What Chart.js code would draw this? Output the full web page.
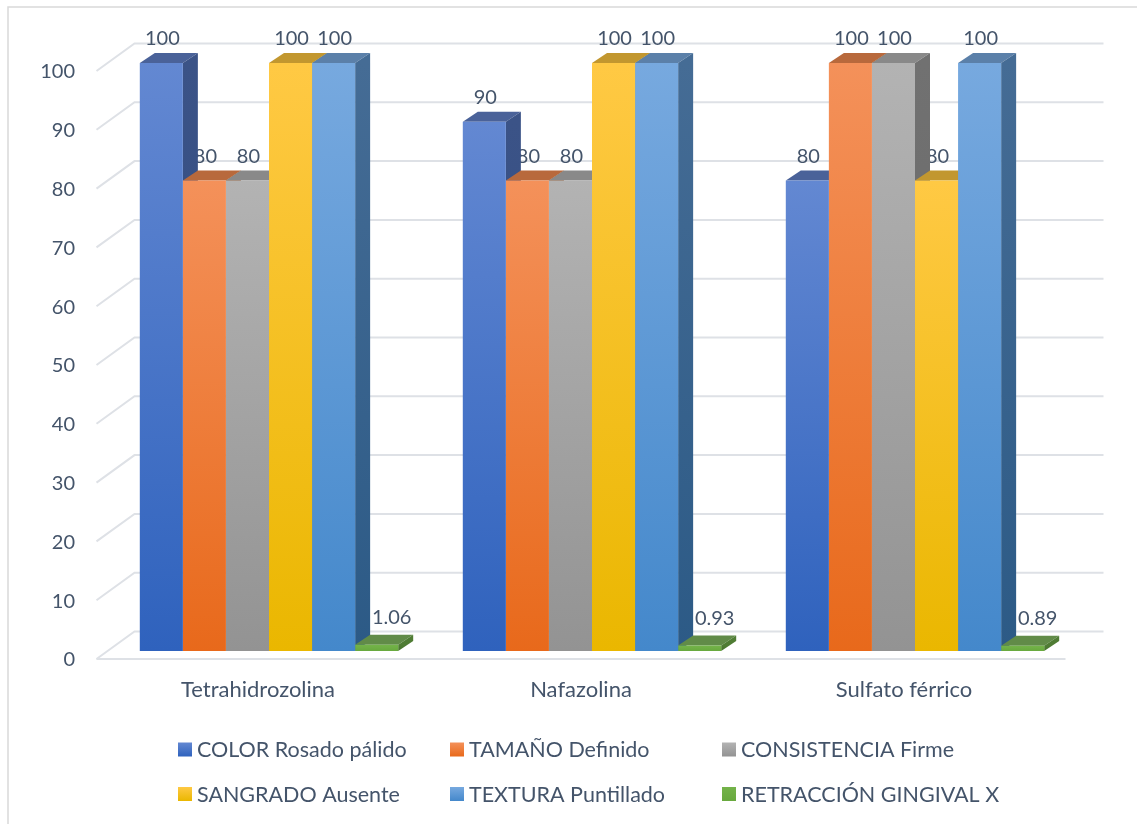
<!DOCTYPE html>
<html>
<head>
<meta charset="utf-8">
<script src="https://cdn.jsdelivr.net/npm/chart.js@4.4.1/dist/chart.umd.min.js"></script>
<style>
  html, body { margin: 0; padding: 0; background: #ffffff; }
  canvas { display: block; }
</style>
</head>
<body>
<canvas id="chart" width="1137" height="824"></canvas>
<script>
// ---- data ----
const categories = ['Tetrahidrozolina', 'Nafazolina', 'Sulfato férrico'];
const seriesNames = ['COLOR Rosado pálido', 'TAMAÑO Definido', 'CONSISTENCIA Firme',
                     'SANGRADO Ausente', 'TEXTURA Puntillado', 'RETRACCIÓN GINGIVAL X'];
const colorRosadoPalido   = [100, 90, 80];
const tamanoDefinido      = [80, 80, 100];
const consistenciaFirme   = [80, 80, 100];
const sangradoAusente     = [100, 100, 80];
const texturaPuntillado   = [100, 100, 100];
const retraccionGingival  = [1.06, 0.93, 0.89];
const yTickValues = [0, 10, 20, 30, 40, 50, 60, 70, 80, 90, 100];

// ---- styling ----
const TEXT = '#44546A';
const FONT = '"Lato", "Liberation Sans", sans-serif';
const GRID = '#DEE1E6';
// 3D offsets, relative to the plane of the bars' front faces
const DEPTH = { dx: 15, dy: -10 };    // bar depth
const WALL  = { dx: 27, dy: -19.5 };  // back wall
const FLOOR = { dx: -11, dy: 8 };     // front edge of the floor

const palette = [
  { light: '#6388D2', dark: '#2F62BD', top: '#4A6299', side: '#3B5387', sideDark: '#2E4A7E' },
  { light: '#F4915A', dark: '#E8691B', top: '#B8693C', side: '#A9581F', sideDark: '#9C4E18' },
  { light: '#B3B3B3', dark: '#939393', top: '#898989', side: '#717171', sideDark: '#666666' },
  { light: '#FFC944', dark: '#EAB700', top: '#C2972F', side: '#B08A12', sideDark: '#A07D05' },
  { light: '#77A9DF', dark: '#4488CB', top: '#5B80A9', side: '#456C95', sideDark: '#2C5A86' },
  { light: '#74B34A', dark: '#68A93E', top: '#618B48', side: '#4F7C34', sideDark: '#46722D' }
];

const seriesValues = [colorRosadoPalido, tamanoDefinido, consistenciaFirme,
                      sangradoAusente, texturaPuntillado, retraccionGingival];

function frontFill(ctx) {
  const chart = ctx.chart;
  const p = palette[ctx.datasetIndex];
  if (!chart.chartArea || ctx.type !== 'data') return p.dark;
  const ys = chart.scales.y;
  const top = ys.getPixelForValue(ctx.raw);
  const bottom = ys.getPixelForValue(0);
  const g = chart.ctx.createLinearGradient(0, top, 0, Math.max(bottom, top + 1));
  g.addColorStop(0, p.light);
  g.addColorStop(1, p.dark);
  return g;
}

function fmt(v) {
  return Number.isInteger(v) ? String(v) : v.toFixed(2);
}

const scene3d = {
  id: 'scene3d',
  beforeDraw(chart) {
    const c = chart.ctx;
    c.save();
    c.strokeStyle = '#D9D9D9';
    c.lineWidth = 1.5;
    c.strokeRect(8, 7, 1400, 1000);
    c.restore();
  },
  beforeDatasetsDraw(chart) {
    const c = chart.ctx;
    const area = chart.chartArea;
    const ys = chart.scales.y;
    const xs = chart.scales.x;
    c.save();

    // side wall + back wall gridlines
    c.strokeStyle = GRID;
    c.lineWidth = 2;
    yTickValues.forEach(v => {
      const py = ys.getPixelForValue(v);
      c.beginPath();
      c.moveTo(area.left + FLOOR.dx, py + FLOOR.dy);
      c.lineTo(area.left + WALL.dx, py + WALL.dy);
      c.lineTo(area.right + WALL.dx, py + WALL.dy);
      c.stroke();
    });
    // front edge of the floor
    const p0 = ys.getPixelForValue(0);
    c.beginPath();
    c.moveTo(area.left + FLOOR.dx, p0 + FLOOR.dy);
    c.lineTo(area.right + FLOOR.dx, p0 + FLOOR.dy);
    c.stroke();

    // value axis labels
    c.fillStyle = TEXT;
    c.font = '20px ' + FONT;
    c.textAlign = 'right';
    c.textBaseline = 'middle';
    yTickValues.forEach(v => {
      const py = ys.getPixelForValue(v);
      c.fillText(String(v), 75, py + FLOOR.dy + 1);
    });

    // category labels
    c.font = '22px ' + FONT;
    c.textAlign = 'center';
    categories.forEach((cat, i) => {
      c.fillText(cat, xs.getPixelForValue(i) + FLOOR.dx, 690);
    });

    // collect bar geometry from the library
    const bars = [];
    chart.data.datasets.forEach((ds, di) => {
      const meta = chart.getDatasetMeta(di);
      meta.data.forEach((el, i) => {
        const props = el.getProps(['x', 'y', 'base', 'width'], true);
        bars.push({ di, i, value: ds.data[i], ...props,
                    l: props.x - props.width / 2, r: props.x + props.width / 2 });
      });
    });
    bars.sort((a, b) => a.l - b.l);

    // value labels (sit behind neighbouring bar faces)
    c.font = '20px ' + FONT;
    c.textAlign = 'center';
    c.textBaseline = 'middle';
    c.fillStyle = TEXT;
    bars.forEach(b => {
      const short = (b.base - b.y) < 20;
      const lx = b.x + (short ? DEPTH.dx : 1);
      const ly = b.y - (short ? 27 : 24);
      c.fillText(fmt(b.value), lx, ly);
    });

    // top and side faces, drawn left to right
    bars.forEach(b => {
      const p = palette[b.di];
      const t = b.y, bt = b.base;
      c.fillStyle = p.top;
      c.beginPath();
      c.moveTo(b.l, t);
      c.lineTo(b.r, t);
      c.lineTo(b.r + DEPTH.dx, t + DEPTH.dy);
      c.lineTo(b.l + DEPTH.dx, t + DEPTH.dy);
      c.closePath();
      c.fill();

      const g = c.createLinearGradient(0, t, 0, Math.max(bt, t + 1));
      g.addColorStop(0, p.side);
      g.addColorStop(1, p.sideDark);
      c.fillStyle = g;
      c.beginPath();
      c.moveTo(b.r, t);
      c.lineTo(b.r + DEPTH.dx, t + DEPTH.dy);
      c.lineTo(b.r + DEPTH.dx, bt + DEPTH.dy);
      c.lineTo(b.r, bt);
      c.closePath();
      c.fill();
    });
    c.restore();
  },
  afterDraw(chart) {
    // legend, two rows of three
    const c = chart.ctx;
    const cols = [178, 450, 722];
    const rows = [749.5, 794];
    c.save();
    c.font = '21.5px ' + FONT;
    c.textAlign = 'left';
    c.textBaseline = 'middle';
    chart.data.datasets.forEach((ds, di) => {
      const x = cols[di % 3];
      const y = rows[Math.floor(di / 3)];
      const p = palette[di];
      const g = c.createLinearGradient(0, y - 7, 0, y + 7);
      g.addColorStop(0, p.light);
      g.addColorStop(1, p.dark);
      c.fillStyle = g;
      c.fillRect(x, y - 7, 14, 14);
      c.fillStyle = TEXT;
      c.fillText(ds.label, x + 19, y + 1);
    });
    c.restore();
  }
};

new Chart(document.getElementById('chart'), {
  type: 'bar',
  data: {
    labels: categories,
    datasets: seriesNames.map((name, di) => ({
      label: name,
      data: seriesValues[di],
      backgroundColor: frontFill,
      borderWidth: 0,
      categoryPercentage: 0.8,
      barPercentage: 1.0
    }))
  },
  options: {
    responsive: false,
    animation: false,
    devicePixelRatio: 1,
    layout: { padding: { left: 107.5, right: 60.5, top: 63, bottom: 173 } },
    scales: {
      x: { display: false },
      y: { display: false, min: 0, max: 100, ticks: { stepSize: 10 } }
    },
    plugins: {
      legend: { display: false },
      tooltip: { enabled: false }
    }
  },
  plugins: [scene3d]
});
</script>
</body>
</html>
